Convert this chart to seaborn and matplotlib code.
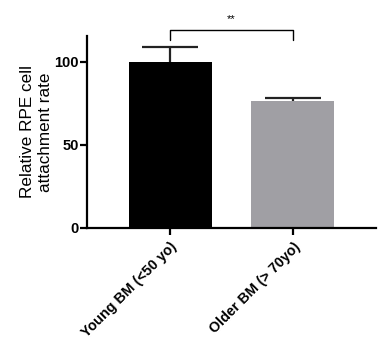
import numpy as np
import pandas as pd
import seaborn as sns
import matplotlib
matplotlib.use("Agg")
import matplotlib.pyplot as plt

groups = ["Young BM (<50 yo)", "Older BM (> 70yo)"]
means = [100.0, 76.3]
sem = [8.6, 1.9]
bar_colors = ["#000000", "#A09FA4"]
sig_label = "**"

df = pd.DataFrame({"group": groups, "rate": means})

sns.set_style("ticks")
plt.rcParams["font.family"] = ["Liberation Sans", "DejaVu Sans"]
plt.rcParams["text.color"] = "black"
plt.rcParams["axes.labelcolor"] = "black"
plt.rcParams["xtick.color"] = "black"
plt.rcParams["ytick.color"] = "black"

fig = plt.figure(figsize=(3.86, 3.56), dpi=100)
ax = fig.add_axes([0.2254, 0.3596, 0.7486, 0.5393])

sns.barplot(data=df, x="group", y="rate", hue="group", palette=bar_colors,
            errorbar=None, width=0.675, legend=False, ax=ax, saturation=1,
            linewidth=0)

x = np.arange(len(groups))
eb = ax.errorbar(x, means, yerr=[np.zeros(len(sem)), sem], fmt="none",
                 ecolor="#222222", elinewidth=1.6, capsize=20, capthick=1.6,
                 zorder=3)
# only keep the upper caps
eb[1][0].set_visible(False)

ax.set_xlim(-0.675, 1.675)
ax.set_ylim(0, 115.5)
ax.set_yticks([0, 50, 100])
ax.set_xlabel("")
ax.set_ylabel("Relative RPE cell\nattachment rate", fontsize=12.3, labelpad=1,
              linespacing=1.25)
ax.set_xticks(x)
ax.set_xticklabels(groups, rotation=45, ha="right", rotation_mode="anchor",
                   fontsize=10.3, fontweight="bold")
for lab in ax.get_yticklabels():
    lab.set_fontweight("bold")
    lab.set_fontsize(10.5)
ax.tick_params(axis="both", width=1.6, length=5, color="black")
ax.tick_params(axis="y", pad=1)
sns.despine(ax=ax)
for s in ["left", "bottom"]:
    ax.spines[s].set_linewidth(1.6)
    ax.spines[s].set_color("black")

# significance bracket
yb, yl = 118.9, 113.0
ax.plot([x[0], x[0], x[1], x[1]], [yl, yb, yb, yl], color="black", lw=1.0,
        clip_on=False)
ax.text((x[0] + x[1]) / 2, yb + 3.5, sig_label, ha="center", va="bottom",
        fontsize=8, clip_on=False)

fig.savefig("out.png", dpi=100)
